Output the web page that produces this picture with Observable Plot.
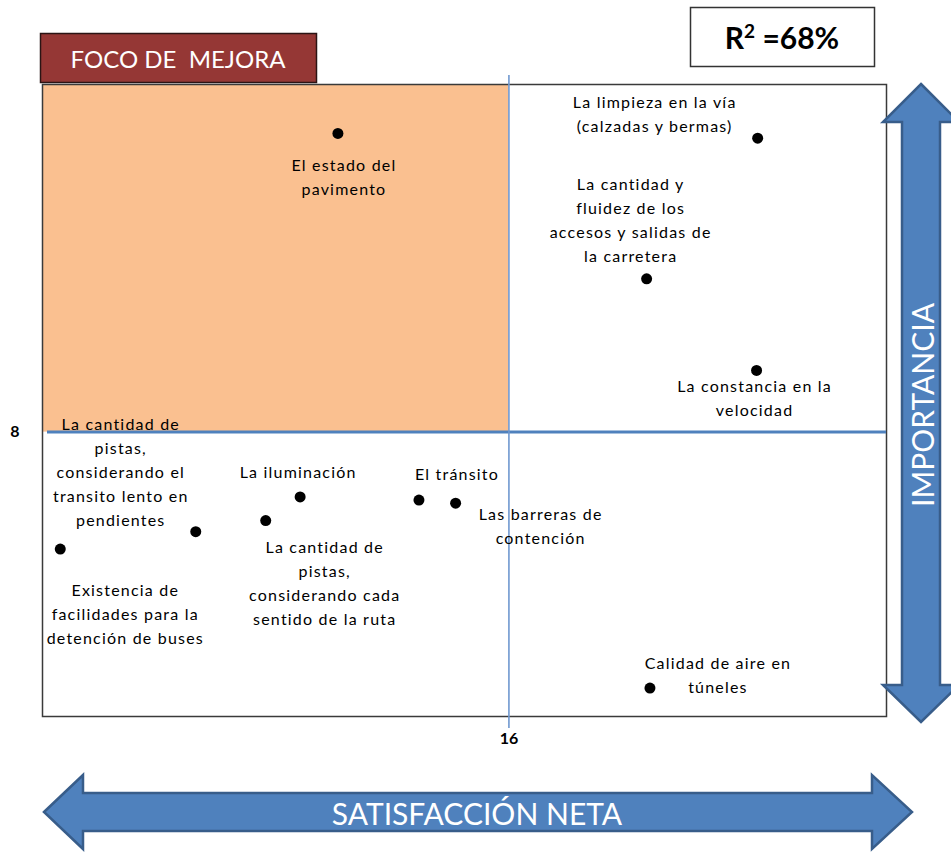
<!DOCTYPE html>
<html>
<head>
<meta charset="utf-8">
<script src="https://cdn.jsdelivr.net/npm/d3@7"></script>
<script src="https://cdn.jsdelivr.net/npm/@observablehq/plot@0.6"></script>
<style>
  html, body { margin: 0; padding: 0; background: #fff; }
  #wrap { position: relative; width: 951px; height: 852px; font-family: Lato, "Open Sans", sans-serif; }
  #wrap > svg.deco { position: absolute; left: 0; top: 0; pointer-events: none; }
  #wrap g[aria-label="text"] text { letter-spacing: 1.2px; }
</style>
</head>
<body>
<div id="wrap"></div>
<script>
// ---- data ----
const attributes = [
  "El estado del\npavimento",
  "La limpieza en la vía\n(calzadas y bermas)",
  "La cantidad y\nfluidez de los\naccesos y salidas de\nla carretera",
  "La constancia en la\nvelocidad",
  "La cantidad de\npistas,\nconsiderando el\ntransito lento en\npendientes",
  "Existencia de\nfacilidades para la\ndetención de buses",
  "La iluminación",
  "La cantidad de\npistas,\nconsiderando cada\nsentido de la ruta",
  "El tránsito",
  "Las barreras de\ncontención",
  "Calidad de aire en\ntúneles"
];
const satisfaccion = [8.3, 27.2, 22.2, 27.15, 1.9, -4.2, 6.6, 5.05, 11.95, 13.6, 22.35];
const importancia  = [17.45, 17.3, 12.85, 9.95, 4.85, 4.3, 5.95, 5.2, 5.85, 5.75, -0.1];
const xTicks = [16];
const yTicks = [8];
const xDomain = [-5, 33];
const yDomain = [-1, 19];
const focusTitle = "FOCO DE  MEJORA";
const rSquaredLabel = "68%";
const xAxisLabel = "SATISFACCIÓN NETA";
const yAxisLabel = "IMPORTANCIA";

// ---- chart ----
const data = attributes.map((name, i) => ({name, x: satisfaccion[i], y: importancia[i]}));

// label placement (pixel offsets from each point)
const labelOffsets = [
  [6, 42], [-103, -25.5], [-16, -61], [-2, 26], [-75, -61],
  [65, 63], [-2, -27], [59, 60.5], [38, -28], [85, 21], [68, -15]
];

const labelMarks = data.map((d, i) => Plot.text([d], {
  x: "x", y: "y", text: "name",
  dx: labelOffsets[i][0], dy: labelOffsets[i][1],
  textAnchor: "middle", lineAnchor: "middle", lineHeight: 1.5,
  fontSize: 16, fill: "#000"
}));

const chart = Plot.plot({
  width: 951,
  height: 852,
  marginLeft: 42,
  marginRight: 65,
  marginTop: 84,
  marginBottom: 136,
  x: {domain: xDomain},
  y: {domain: yDomain},
  style: {fontFamily: "Lato, 'Open Sans', sans-serif", fontSize: "16px", color: "#000", background: "transparent"},
  marks: [
    Plot.rect([{}], {x1: xDomain[0], x2: xTicks[0], y1: yTicks[0], y2: yDomain[1], fill: "#FAC090"}),
    Plot.frame({stroke: "#3a3a3a", strokeWidth: 1.5}),
    Plot.ruleY(yTicks, {stroke: "#4F81BD", strokeWidth: 3, insetLeft: 5}),
    Plot.ruleX(xTicks, {stroke: "#7098D0", strokeWidth: 1.6, insetTop: -9, insetBottom: -12}),
    Plot.dot(data, {x: "x", y: "y", r: 5.5, fill: "#000"}),
    ...labelMarks,
    Plot.axisX(xTicks, {tickSize: 0, tickPadding: 16, fontSize: 16, fontWeight: "bold", label: null, tickFormat: d => String(d)}),
    Plot.axisY(yTicks, {tickSize: 0, tickPadding: 23, fontSize: 16, fontWeight: "bold", label: null, tickFormat: d => String(d)})
  ]
});

const wrap = document.getElementById("wrap");
wrap.appendChild(chart);

// ---- decorations (boxes & arrows) ----
const deco = d3.create("svg").attr("class", "deco").attr("width", 951).attr("height", 852);
const blue = "#4F81BD", blueDark = "#385D8A";

// FOCO DE MEJORA box
deco.append("rect").attr("x", 40.5).attr("y", 33.5).attr("width", 276).attr("height", 49)
  .attr("fill", "#953735").attr("stroke", "#2b1414").attr("stroke-width", 1.5);
deco.append("text").attr("x", 178).attr("y", 58).attr("text-anchor", "middle")
  .attr("dominant-baseline", "central").attr("fill", "#fff")
  .style("font-family", "Lato, sans-serif").style("font-size", "24px").style("white-space", "pre")
  .text(focusTitle);

// R^2 box
deco.append("rect").attr("x", 690.5).attr("y", 7.5).attr("width", 184).attr("height", 59)
  .attr("fill", "#fff").attr("stroke", "#333").attr("stroke-width", 1.5);
const rt = deco.append("text").attr("x", 782).attr("y", 49).attr("text-anchor", "middle")
  .attr("fill", "#000").style("font-family", "Lato, sans-serif").style("font-size", "30px").style("font-weight", "bold");
rt.append("tspan").text("R");
rt.append("tspan").attr("dy", -11).style("font-size", "19px").text("2");
rt.append("tspan").attr("dy", 11).text(" =" + rSquaredLabel);

// vertical double arrow
const vx = 921;
const vPts = [[vx, 84], [vx + 38, 122], [vx + 19, 122], [vx + 19, 685], [vx + 38, 685], [vx, 722],
              [vx - 38, 685], [vx - 19, 685], [vx - 19, 122], [vx - 38, 122]];
deco.append("polygon").attr("points", vPts.map(p => p.join(",")).join(" "))
  .attr("fill", blue).attr("stroke", blueDark).attr("stroke-width", 2.5).attr("stroke-linejoin", "miter");
deco.append("text").attr("transform", `translate(${vx + 1},405) rotate(-90)`)
  .attr("text-anchor", "middle").attr("dominant-baseline", "central").attr("fill", "#fff")
  .style("font-family", "Lato, sans-serif").style("font-size", "30px").text(yAxisLabel);

// horizontal double arrow
const hy = 812;
const hPts = [[44, hy], [83, hy - 37], [83, hy - 19], [872, hy - 19], [872, hy - 37], [912, hy],
              [872, hy + 37], [872, hy + 19], [83, hy + 19], [83, hy + 37]];
deco.append("polygon").attr("points", hPts.map(p => p.join(",")).join(" "))
  .attr("fill", blue).attr("stroke", blueDark).attr("stroke-width", 2.5);
deco.append("text").attr("x", 477).attr("y", hy + 1).attr("text-anchor", "middle")
  .attr("dominant-baseline", "central").attr("fill", "#fff")
  .style("font-family", "Lato, sans-serif").style("font-size", "30px").text(xAxisLabel);

wrap.appendChild(deco.node());
</script>
</body>
</html>
